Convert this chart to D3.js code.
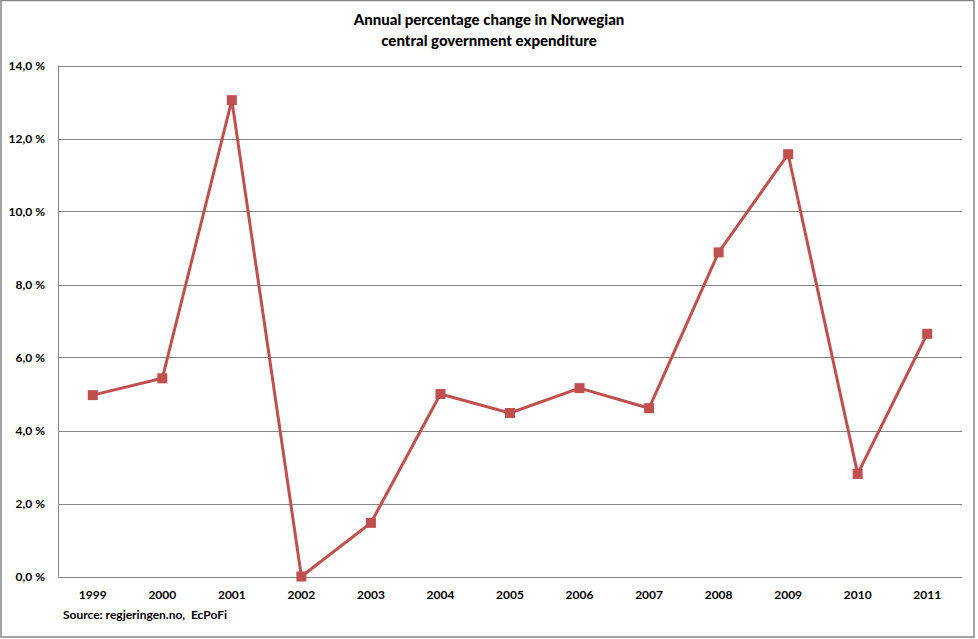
<!DOCTYPE html>
<html>
<head>
<meta charset="utf-8">
<script src="https://cdn.jsdelivr.net/npm/d3@7"></script>
<style>
    body { margin: 0; background: #fff; }
    svg text { font-family: Lato, "Open Sans", sans-serif; font-weight: bold; fill: #000; }
</style>
</head>
<body>
<svg id="chart" width="978" height="639"></svg>
<script>
const years = ["1999", "2000", "2001", "2002", "2003", "2004", "2005", "2006", "2007", "2008", "2009", "2010", "2011"];
const pctChange = [4.97, 5.43, 13.05, 0.0, 1.47, 5.0, 4.48, 5.16, 4.61, 8.88, 11.57, 2.81, 6.65];
const yTicks = [0, 2, 4, 6, 8, 10, 12, 14];
const titleLines = ["Annual percentage change in Norwegian", "central government expenditure"];
const sourceText = "Source: regjeringen.no,  EcPoFi";

const svg = d3.select("svg#chart"),
    width = +svg.attr("width"),
    height = +svg.attr("height");

const margin = {top: 65.5, right: 16, bottom: 62.5, left: 58};

// outer chart border
svg.append("rect")
    .attr("x", 1).attr("y", 0.5)
    .attr("width", 973).attr("height", 636.5)
    .attr("fill", "#fff")
    .attr("stroke", "#868686")
    .attr("stroke-width", 1.5);

// title
svg.append("g")
    .selectAll("text")
    .data(titleLines)
    .join("text")
        .attr("x", 489)
        .attr("y", (d, i) => 25 + i * 21)
        .attr("text-anchor", "middle")
        .style("font-size", "15px")
        .style("font-weight", 900)
        .text(d => d);

const x = d3.scaleBand()
    .domain(years)
    .range([margin.left, width - margin.right]);

const y = d3.scaleLinear()
    .domain([0, 14])
    .range([height - margin.bottom, margin.top]);

// gridlines
svg.append("g")
    .selectAll("line")
    .data(yTicks)
    .join("line")
        .attr("x1", margin.left)
        .attr("x2", width - margin.right)
        .attr("y1", d => Math.round(y(d)) + 0.5)
        .attr("y2", d => Math.round(y(d)) + 0.5)
        .attr("stroke", "#868686")
        .attr("stroke-width", 1);

// y axis line
svg.append("line")
    .attr("x1", margin.left + 0.5).attr("x2", margin.left + 0.5)
    .attr("y1", y(14)).attr("y2", y(0))
    .attr("stroke", "#868686");

// y axis labels
svg.append("g")
    .selectAll("text")
    .data(yTicks)
    .join("text")
        .attr("x", 45)
        .attr("y", d => y(d) + 4.5)
        .attr("text-anchor", "end")
        .style("font-size", "12px")
        .text(d => d3.format(".1f")(d).replace(".", ",") + " %");

// x axis labels
svg.append("g")
    .selectAll("text")
    .data(years)
    .join("text")
        .attr("x", d => x(d) + x.bandwidth() / 2)
        .attr("y", 598.5)
        .attr("text-anchor", "middle")
        .style("font-size", "12px")
        .text(d => d);

// source note (keep the double space)
svg.append("text")
    .attr("x", 63)
    .attr("y", 618.5)
    .style("font-size", "12px")
    .style("white-space", "pre")
    .text(sourceText);

const data = years.map((yr, i) => ({year: yr, value: pctChange[i]}));

// the line
const line = d3.line()
    .x(d => x(d.year) + x.bandwidth() / 2)
    .y(d => y(d.value));

svg.append("path")
    .datum(data)
    .attr("d", line)
    .attr("fill", "none")
    .attr("stroke", "#c0504d")
    .attr("stroke-width", 3)
    .attr("stroke-linejoin", "round");

// square markers
const size = 10;
svg.append("g")
    .selectAll("rect")
    .data(data)
    .join("rect")
        .attr("x", d => x(d.year) + x.bandwidth() / 2 - size / 2)
        .attr("y", d => y(d.value) - size / 2)
        .attr("width", size)
        .attr("height", size)
        .attr("fill", "#c0504d");
</script>
</body>
</html>
